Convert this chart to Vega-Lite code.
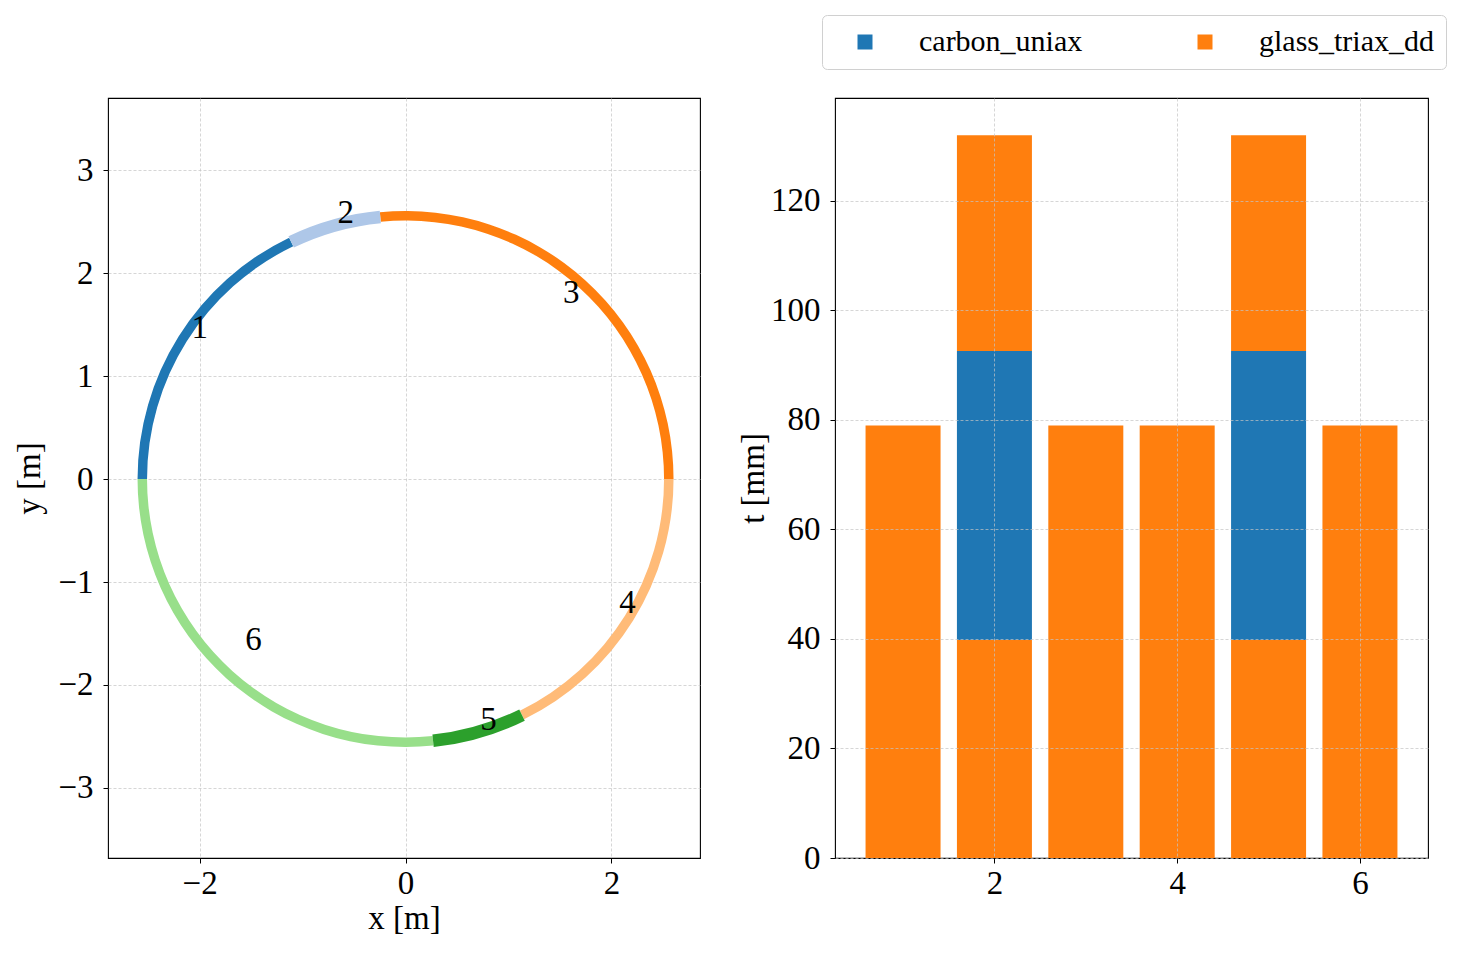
{
  "$schema": "https://vega.github.io/schema/vega-lite/v6.json",
  "padding": {"left": 13, "top": 13, "right": 16, "bottom": 10},
  "config": {
    "font": "Liberation Serif",
    "view": {"stroke": "black", "strokeWidth": 1.1},
    "axis": {
      "domain": false,
      "grid": true,
      "gridColor": "#c4c4c4",
      "gridDash": [3, 2],
      "gridWidth": 0.7,
      "tickColor": "black",
      "tickSize": 5,
      "tickWidth": 1,
      "labelFont": "Liberation Serif",
      "labelFontSize": 33,
      "labelColor": "black",
      "labelFlush": false,
      "labelOverlap": false,
      "titleFont": "Liberation Serif",
      "titleFontSize": 33,
      "titleFontWeight": "normal",
      "titleColor": "black"
    },
    "axisX": {"labelPadding": 4, "titlePadding": 2},
    "axisY": {"labelPadding": 10, "titlePadding": 11}
  },
  "datasets": {
    "segments": [
      {"sector": 1, "phi_start": 180, "phi_end": 115.75},
      {"sector": 2, "phi_start": 115.75, "phi_end": 95.5},
      {"sector": 3, "phi_start": 95.5, "phi_end": 0},
      {"sector": 4, "phi_start": 0, "phi_end": -63.74},
      {"sector": 5, "phi_start": -63.74, "phi_end": -84},
      {"sector": 6, "phi_start": -84, "phi_end": -180}
    ],
    "labels": [
      {"label": "1", "x": -2.0, "y": 1.47},
      {"label": "2", "x": -0.58, "y": 2.58},
      {"label": "3", "x": 1.61, "y": 1.81},
      {"label": "4", "x": 2.155, "y": -1.2},
      {"label": "5", "x": 0.806, "y": -2.34},
      {"label": "6", "x": -1.476, "y": -1.563}
    ],
    "layup": [
      {"sector": 1, "layer": 1, "material": "glass_triax_dd", "t": 79},
      {"sector": 2, "layer": 1, "material": "glass_triax_dd", "t": 39.8},
      {"sector": 2, "layer": 2, "material": "carbon_uniax", "t": 52.8},
      {"sector": 2, "layer": 3, "material": "glass_triax_dd", "t": 39.4},
      {"sector": 3, "layer": 1, "material": "glass_triax_dd", "t": 79},
      {"sector": 4, "layer": 1, "material": "glass_triax_dd", "t": 79},
      {"sector": 5, "layer": 1, "material": "glass_triax_dd", "t": 39.8},
      {"sector": 5, "layer": 2, "material": "carbon_uniax", "t": 52.8},
      {"sector": 5, "layer": 3, "material": "glass_triax_dd", "t": 39.4},
      {"sector": 6, "layer": 1, "material": "glass_triax_dd", "t": 79}
    ]
  },
  "spacing": 135,
  "bounds": "flush",
  "resolve": {"scale": {"color": "independent"}},
  "hconcat": [
    {
      "width": 592,
      "height": 760,
      "encoding": {
        "x": {
          "type": "quantitative",
          "scale": {"domain": [-2.89, 2.86], "nice": false, "zero": false},
          "axis": {"values": [-2, 0, 2]},
          "title": "x [m]"
        },
        "y": {
          "type": "quantitative",
          "scale": {"domain": [-3.68, 3.7], "nice": false, "zero": false},
          "axis": {"values": [-3, -2, -1, 0, 1, 2, 3]},
          "title": "y [m]"
        }
      },
      "layer": [
        {
          "data": {"name": "segments"},
          "transform": [{"filter": {"not": {"field": "sector", "oneOf": [2, 5]}}}],
          "mark": {"type": "arc", "innerRadius": 258.5, "outerRadius": 268},
          "encoding": {
            "x": {"datum": 0, "type": "quantitative"},
            "y": {"datum": 0, "type": "quantitative"},
            "theta": {
              "field": "phi_start",
              "type": "quantitative",
              "stack": null,
              "scale": {"type": "linear", "domain": [90, -270], "range": [0, 6.283185307], "zero": false, "nice": false}
            },
            "theta2": {"field": "phi_end"},
            "color": {
              "field": "sector",
              "type": "nominal",
              "scale": {"domain": [1, 2, 3, 4, 5, 6], "range": ["#1f77b4", "#aec7e8", "#ff7f0e", "#ffbb78", "#2ca02c", "#98df8a"]},
              "legend": null
            }
          }
        },
        {
          "data": {"name": "segments"},
          "transform": [{"filter": {"field": "sector", "oneOf": [2, 5]}}],
          "mark": {"type": "arc", "innerRadius": 257, "outerRadius": 269.5},
          "encoding": {
            "x": {"datum": 0, "type": "quantitative"},
            "y": {"datum": 0, "type": "quantitative"},
            "theta": {
              "field": "phi_start",
              "type": "quantitative",
              "stack": null,
              "scale": {"type": "linear", "domain": [90, -270], "range": [0, 6.283185307], "zero": false, "nice": false}
            },
            "theta2": {"field": "phi_end"},
            "color": {
              "field": "sector",
              "type": "nominal",
              "scale": {"domain": [1, 2, 3, 4, 5, 6], "range": ["#1f77b4", "#aec7e8", "#ff7f0e", "#ffbb78", "#2ca02c", "#98df8a"]},
              "legend": null
            }
          }
        },
        {
          "data": {"name": "labels"},
          "mark": {"type": "text", "fontSize": 33, "font": "Liberation Serif", "color": "black", "align": "center", "baseline": "middle"},
          "encoding": {
            "x": {"field": "x", "type": "quantitative"},
            "y": {"field": "y", "type": "quantitative"},
            "text": {"field": "label"}
          }
        }
      ]
    },
    {
      "width": 593,
      "height": 760,
      "data": {"name": "layup"},
      "mark": {"type": "bar", "width": 75},
      "encoding": {
        "x": {
          "field": "sector",
          "type": "quantitative",
          "scale": {"domain": [0.31, 6.69], "nice": false, "zero": false},
          "axis": {"values": [2, 4, 6], "zindex": 1},
          "title": null
        },
        "y": {
          "field": "t",
          "type": "quantitative",
          "stack": "zero",
          "scale": {"domain": [0, 138.8], "nice": false},
          "axis": {"values": [0, 20, 40, 60, 80, 100, 120], "zindex": 1, "titlePadding": 0},
          "title": "t [mm]"
        },
        "color": {
          "field": "material",
          "type": "nominal",
          "scale": {"domain": ["carbon_uniax", "glass_triax_dd"], "range": ["#1f77b4", "#ff7f0e"]},
          "legend": {
            "title": null,
            "orient": "none",
            "legendX": -13,
            "legendY": -83,
            "direction": "horizontal",
            "columns": 2,
            "gridAlign": "all",
            "columnPadding": 80,
            "symbolType": "square",
            "symbolSize": 225,
            "symbolStrokeWidth": 0,
            "symbolOpacity": 1,
            "symbolOffset": 16,
            "labelOffset": 39,
            "labelFont": "Liberation Serif",
            "labelFontSize": 30,
            "labelColor": "black",
            "labelLimit": 400,
            "padding": 12,
            "strokeColor": "#d0d0d0",
            "fillColor": "white",
            "cornerRadius": 5
          }
        },
        "order": {"field": "layer", "type": "quantitative"}
      }
    }
  ]
}
